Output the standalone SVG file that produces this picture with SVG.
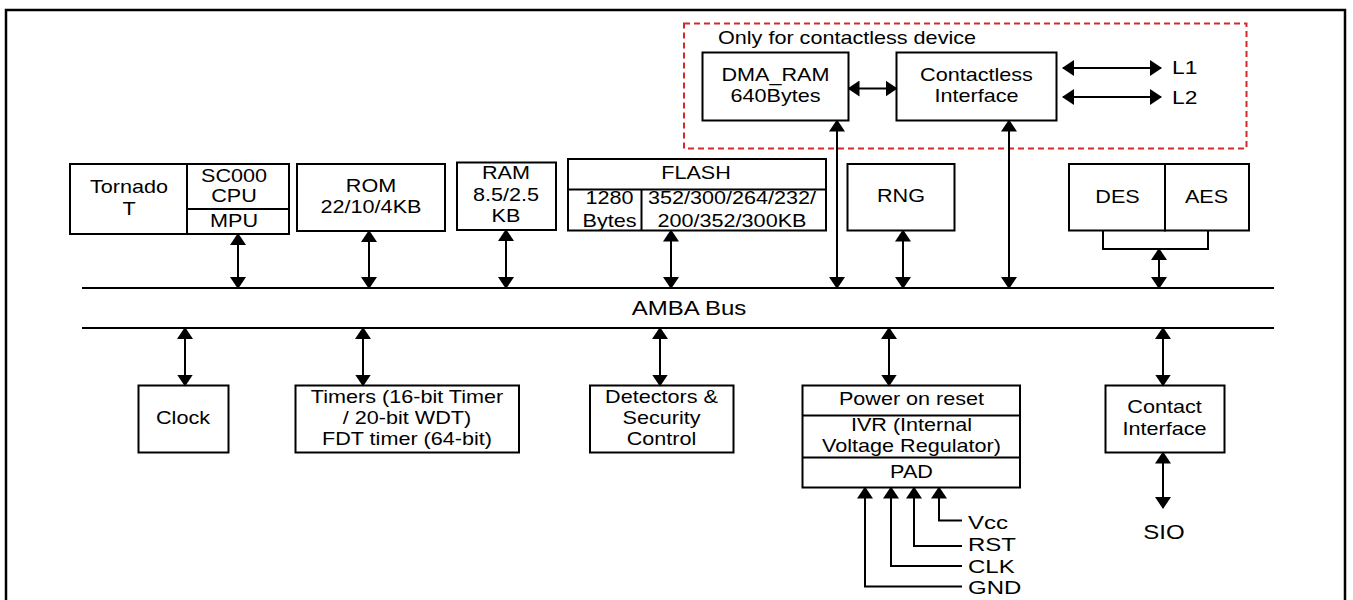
<svg xmlns="http://www.w3.org/2000/svg" width="1353" height="600" viewBox="0 0 1353 600">
<style>
.box{fill:#fff;stroke:#000;stroke-width:2}
.ln{fill:none;stroke:#000;stroke-width:2}
.t{font-family:"Liberation Sans",Arial,sans-serif;font-size:18px;fill:#000;text-anchor:middle}
.tl{font-family:"Liberation Sans",Arial,sans-serif;font-size:18px;fill:#000;text-anchor:start}
.big{font-size:20px}
.ar{fill:none;stroke:#000;stroke-width:2;marker-start:url(#ah);marker-end:url(#ah)}
.a1{fill:none;stroke:#000;stroke-width:2;marker-end:url(#ah)}
</style>
<defs>
<marker id="ah" viewBox="0 0 12 16" refX="11" refY="8" markerWidth="12" markerHeight="16" markerUnits="userSpaceOnUse" orient="auto-start-reverse">
<path d="M0,0 L12,8 L0,16 z" fill="#000"/>
</marker>
</defs>
<rect x="0" y="0" width="1353" height="600" fill="#fff"/>
<rect id="frame" x="6" y="10" width="1339" height="600" fill="none" stroke="#000" stroke-width="2.5"/>

<g id="contactless-region">
<rect x="684" y="23.5" width="562.5" height="125" fill="none" stroke="#d42a2a" stroke-width="2" stroke-dasharray="6,4"/>
<text class="tl" transform="translate(718,44) scale(1.2,1)">Only for contactless device</text>
</g>

<g id="bus">
<line class="ln" x1="82" y1="288" x2="1274" y2="288"/>
<line class="ln" x1="82" y1="328" x2="1274" y2="328"/>
<text class="t big" transform="translate(689,315) scale(1.2,1)">AMBA Bus</text>
</g>

<g id="cpu">
<rect class="box" x="70" y="164" width="117" height="70"/>
<rect class="box" x="187" y="164" width="102" height="70"/>
<line class="ln" x1="187" y1="209" x2="289" y2="209"/>
<text class="t" transform="translate(129,193) scale(1.2,1)">Tornado</text>
<text class="t" transform="translate(129,215) scale(1.2,1)">T</text>
<text class="t" transform="translate(234,181.5) scale(1.2,1)">SC000</text>
<text class="t" transform="translate(234,201.5) scale(1.2,1)">CPU</text>
<text class="t" transform="translate(234,226.5) scale(1.2,1)">MPU</text>
</g>

<g id="rom">
<rect class="box" x="297" y="164" width="148" height="67"/>
<text class="t" transform="translate(371,192) scale(1.2,1)">ROM</text>
<text class="t" transform="translate(371,213) scale(1.2,1)">22/10/4KB</text>
</g>

<g id="ram">
<rect class="box" x="457" y="162.5" width="99" height="67.5"/>
<text class="t" transform="translate(506,179) scale(1.2,1)">RAM</text>
<text class="t" transform="translate(506,201) scale(1.2,1)">8.5/2.5</text>
<text class="t" transform="translate(506,221.5) scale(1.2,1)">KB</text>
</g>

<g id="flash">
<rect class="box" x="568" y="159" width="258" height="71.5"/>
<line class="ln" x1="568" y1="189.5" x2="826" y2="189.5"/>
<line class="ln" x1="641.5" y1="189.5" x2="641.5" y2="230.5"/>
<text class="t" transform="translate(696,179) scale(1.2,1)">FLASH</text>
<text class="t" transform="translate(609.5,204) scale(1.2,1)">1280</text>
<text class="t" transform="translate(609.5,226.5) scale(1.2,1)">Bytes</text>
<text class="t" transform="translate(732,204) scale(1.2,1)">352/300/264/232/</text>
<text class="t" transform="translate(732,226.5) scale(1.2,1)">200/352/300KB</text>
</g>

<g id="dma-ram">
<rect class="box" x="702.5" y="52.5" width="146" height="68"/>
<text class="t" transform="translate(775.5,81) scale(1.2,1)">DMA_RAM</text>
<text class="t" transform="translate(775.5,101.5) scale(1.2,1)">640Bytes</text>
</g>

<g id="contactless-interface">
<rect class="box" x="896.5" y="52.5" width="160" height="68"/>
<text class="t" transform="translate(976.5,81) scale(1.2,1)">Contactless</text>
<text class="t" transform="translate(976.5,101.5) scale(1.2,1)">Interface</text>
</g>

<g id="l1">
<text class="tl" transform="translate(1172,74) scale(1.2,1)" style="font-size:19px">L1</text>
</g>
<g id="l2">
<text class="tl" transform="translate(1172,104) scale(1.2,1)" style="font-size:19px">L2</text>
</g>

<g id="rng">
<rect class="box" x="847.5" y="164" width="107" height="66.5"/>
<text class="t" transform="translate(901,202) scale(1.2,1)">RNG</text>
</g>

<g id="crypto">
<rect class="box" x="1069" y="164" width="96" height="66.5"/>
<rect class="box" x="1165" y="164" width="84" height="66.5"/>
<text class="t" transform="translate(1117.5,202.5) scale(1.2,1)">DES</text>
<text class="t" transform="translate(1206.5,202.5) scale(1.2,1)">AES</text>
</g>

<g id="clock">
<rect class="box" x="138.5" y="385.5" width="90" height="67"/>
<text class="t" transform="translate(183,424) scale(1.2,1)">Clock</text>
</g>

<g id="timers">
<rect class="box" x="295.5" y="385.5" width="223.5" height="67"/>
<text class="t" transform="translate(407,402.5) scale(1.2,1)">Timers (16-bit Timer</text>
<text class="t" transform="translate(407,424) scale(1.2,1)">/ 20-bit WDT)</text>
<text class="t" transform="translate(407,445) scale(1.2,1)">FDT timer (64-bit)</text>
</g>

<g id="detectors">
<rect class="box" x="590" y="385.5" width="143.5" height="67"/>
<text class="t" transform="translate(661.5,402.5) scale(1.2,1)">Detectors &amp;</text>
<text class="t" transform="translate(661.5,424) scale(1.2,1)">Security</text>
<text class="t" transform="translate(661.5,445) scale(1.2,1)">Control</text>
</g>

<g id="power">
<rect class="box" x="802.5" y="385.5" width="217.5" height="102"/>
<line class="ln" x1="802.5" y1="415.5" x2="1020" y2="415.5"/>
<line class="ln" x1="802.5" y1="457.5" x2="1020" y2="457.5"/>
<text class="t" transform="translate(911.5,405) scale(1.2,1)">Power on reset</text>
<text class="t" transform="translate(911.5,431) scale(1.2,1)">IVR (Internal</text>
<text class="t" transform="translate(911.5,451.5) scale(1.2,1)">Voltage Regulator)</text>
<text class="t" transform="translate(911.5,478) scale(1.2,1)">PAD</text>
</g>

<g id="contact-interface">
<rect class="box" x="1105.5" y="385.5" width="119" height="67"/>
<text class="t" transform="translate(1164.5,413) scale(1.2,1)">Contact</text>
<text class="t" transform="translate(1164.5,435) scale(1.2,1)">Interface</text>
</g>

<g id="sio">
<text class="t big" transform="translate(1164,539) scale(1.2,1)">SIO</text>
</g>

<g id="pins">
<text class="tl" transform="translate(968,529) scale(1.333,1)">Vcc</text>
<text class="tl" transform="translate(968,551) scale(1.333,1)">RST</text>
<text class="tl" transform="translate(968,572.5) scale(1.333,1)">CLK</text>
<text class="tl" transform="translate(968,594) scale(1.333,1)">GND</text>
</g>

<g id="connectors">
<line class="ar" x1="238" y1="234" x2="238" y2="288"/>
<line class="ar" x1="369" y1="231" x2="369" y2="288"/>
<line class="ar" x1="506" y1="230" x2="506" y2="288"/>
<line class="ar" x1="671" y1="230.5" x2="671" y2="288"/>
<line class="ar" x1="837" y1="120.5" x2="837" y2="288"/>
<line class="ar" x1="903" y1="230.5" x2="903" y2="288"/>
<line class="ar" x1="1009" y1="120.5" x2="1009" y2="288"/>
<polyline class="ln" points="1103,230.5 1103,249 1208,249 1208,230.5"/>
<line class="ar" x1="1159" y1="249" x2="1159" y2="288"/>
<line class="ar" x1="848.5" y1="88.5" x2="896.5" y2="88.5"/>
<line class="ar" x1="1063" y1="68" x2="1161" y2="68"/>
<line class="ar" x1="1063" y1="97" x2="1161" y2="97"/>
<line class="ar" x1="185" y1="328" x2="185" y2="385.5"/>
<line class="ar" x1="363" y1="328" x2="363" y2="385.5"/>
<line class="ar" x1="660" y1="328" x2="660" y2="385.5"/>
<line class="ar" x1="889" y1="328" x2="889" y2="385.5"/>
<line class="ar" x1="1163" y1="328" x2="1163" y2="385.5"/>
<line class="ar" x1="1163" y1="452.5" x2="1163" y2="508"/>
<polyline class="a1" points="962,520.5 939,520.5 939,487.5"/>
<polyline class="a1" points="962,546 914,546 914,487.5"/>
<polyline class="a1" points="962,566 891,566 891,487.5"/>
<polyline class="a1" points="962,586.5 865,586.5 865,487.5"/>
</g>
</svg>
